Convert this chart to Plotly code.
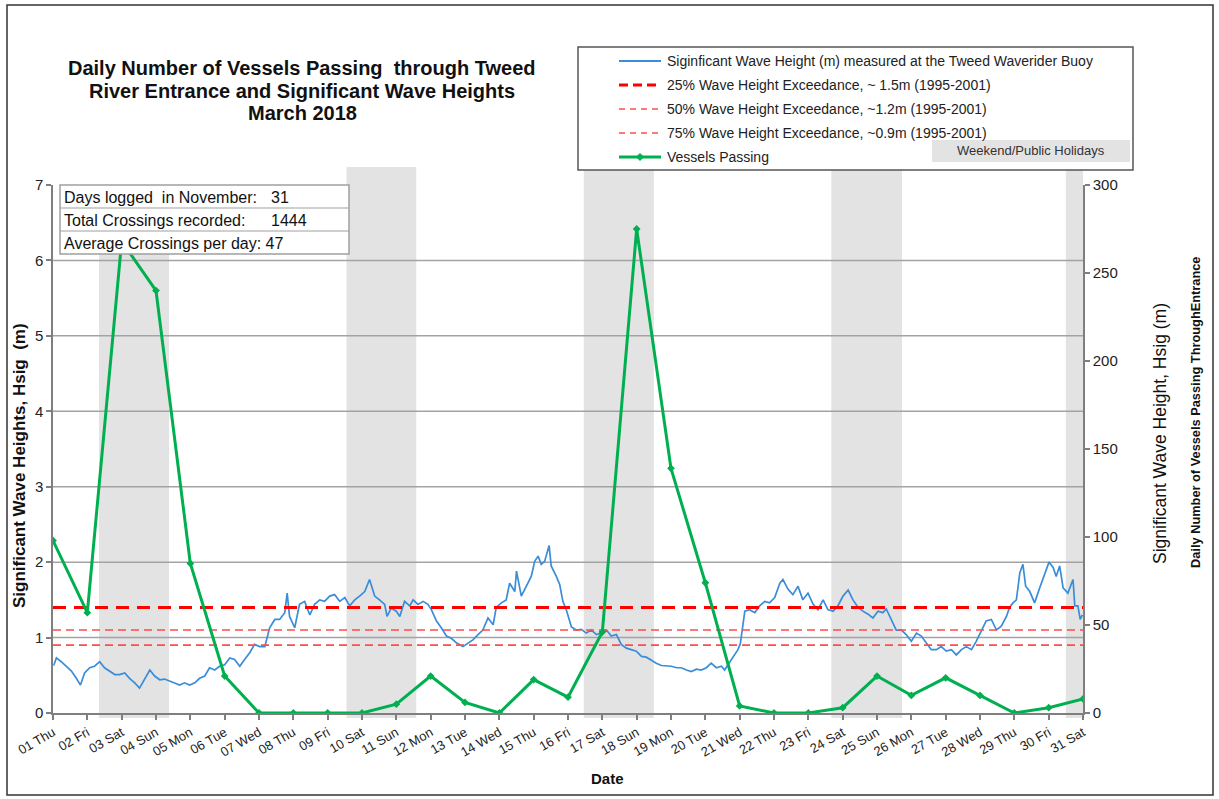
import plotly.graph_objects as go

# ---------------- data ----------------
day_labels = ["01 Thu", "02 Fri", "03 Sat", "04 Sun", "05 Mon", "06 Tue", "07 Wed", "08 Thu",
              "09 Fri", "10 Sat", "11 Sun", "12 Mon", "13 Tue", "14 Wed", "15 Thu", "16 Fri",
              "17 Sat", "18 Sun", "19 Mon", "20 Tue", "21 Wed", "22 Thu", "23 Fri", "24 Sat",
              "25 Sun", "26 Mon", "27 Tue", "28 Wed", "29 Thu", "30 Fri", "31 Sat"]
vessels = [98, 57, 268, 240, 85, 21, 0, 0, 0, 0, 5, 21, 6, 0, 19, 9,
           46, 275, 139, 74, 4, 0, 0, 3, 21, 10, 20, 10, 0, 3, 8]
exceedance_levels = [1.4, 1.1, 0.9]
weekend_start = [1.34, 8.55, 15.46, 22.67, 29.5]
weekend_end = [3.38, 10.58, 17.5, 24.73, 30.0]

# (day offset from 01 Mar, Hsig m)
wave_samples = [
    (0.02, 0.63), (0.10, 0.73), (0.24, 0.68), (0.39, 0.62), (0.53, 0.56), (0.68, 0.46),
    (0.80, 0.37), (0.92, 0.53), (1.07, 0.60), (1.21, 0.62), (1.36, 0.68), (1.50, 0.60),
    (1.65, 0.55), (1.80, 0.51), (1.94, 0.51), (2.09, 0.53), (2.23, 0.46), (2.38, 0.40),
    (2.52, 0.33), (2.67, 0.46), (2.82, 0.57), (2.96, 0.49), (3.11, 0.44), (3.25, 0.45),
    (3.40, 0.42), (3.54, 0.40), (3.69, 0.37), (3.83, 0.40), (3.98, 0.37), (4.13, 0.40),
    (4.27, 0.46), (4.42, 0.49), (4.56, 0.60), (4.71, 0.57), (4.85, 0.62), (5.00, 0.64),
    (5.15, 0.73), (5.29, 0.71), (5.44, 0.62), (5.58, 0.71), (5.73, 0.80), (5.87, 0.91),
    (6.02, 0.88), (6.17, 0.88), (6.31, 1.13), (6.46, 1.24), (6.60, 1.24), (6.75, 1.33),
    (6.82, 1.59), (6.89, 1.28), (7.04, 1.13), (7.18, 1.44), (7.33, 1.48), (7.48, 1.30),
    (7.62, 1.44), (7.77, 1.50), (7.91, 1.48), (8.06, 1.55), (8.20, 1.57), (8.35, 1.48),
    (8.50, 1.53), (8.64, 1.42), (8.79, 1.50), (8.93, 1.55), (9.08, 1.61), (9.22, 1.77),
    (9.37, 1.55), (9.51, 1.50), (9.66, 1.44), (9.73, 1.28), (9.85, 1.39), (10.00, 1.35),
    (10.10, 1.28), (10.24, 1.48), (10.39, 1.42), (10.49, 1.50), (10.63, 1.44), (10.78, 1.48),
    (10.92, 1.44), (11.02, 1.37), (11.17, 1.22), (11.31, 1.13), (11.46, 1.02), (11.60, 0.99),
    (11.75, 0.93), (11.94, 0.88), (12.09, 0.93), (12.23, 0.97), (12.38, 1.04), (12.52, 1.10),
    (12.67, 1.26), (12.82, 1.17), (12.91, 1.40), (13.06, 1.46), (13.20, 1.50), (13.30, 1.72),
    (13.45, 1.61), (13.50, 1.88), (13.64, 1.55), (13.79, 1.68), (13.93, 1.81), (14.03, 2.01),
    (14.13, 2.08), (14.22, 1.97), (14.32, 2.01), (14.45, 2.22), (14.51, 1.95), (14.66, 1.81),
    (14.76, 1.70), (14.85, 1.48), (14.95, 1.37), (15.10, 1.14), (15.24, 1.10), (15.39, 1.11),
    (15.53, 1.06), (15.68, 1.10), (15.83, 1.04), (15.97, 1.06), (16.12, 1.10), (16.26, 1.02),
    (16.41, 1.04), (16.55, 0.91), (16.70, 0.86), (16.84, 0.84), (16.99, 0.82), (17.14, 0.75),
    (17.28, 0.74), (17.43, 0.70), (17.57, 0.66), (17.72, 0.63), (17.86, 0.63), (18.01, 0.62),
    (18.16, 0.60), (18.30, 0.60), (18.45, 0.57), (18.59, 0.55), (18.74, 0.58), (18.88, 0.57),
    (19.03, 0.60), (19.17, 0.66), (19.32, 0.60), (19.47, 0.62), (19.56, 0.57), (19.66, 0.64),
    (19.81, 0.73), (19.95, 0.84), (20.02, 0.92), (20.15, 1.35), (20.29, 1.37), (20.44, 1.33),
    (20.58, 1.42), (20.73, 1.48), (20.87, 1.46), (21.02, 1.53), (21.17, 1.72), (21.26, 1.77),
    (21.41, 1.64), (21.55, 1.57), (21.70, 1.68), (21.84, 1.50), (21.99, 1.59), (22.14, 1.44),
    (22.28, 1.37), (22.43, 1.50), (22.57, 1.37), (22.72, 1.35), (22.86, 1.42), (23.01, 1.55),
    (23.16, 1.63), (23.30, 1.50), (23.45, 1.40), (23.59, 1.35), (23.74, 1.31), (23.88, 1.26),
    (24.03, 1.35), (24.17, 1.33), (24.27, 1.38), (24.42, 1.24), (24.56, 1.10), (24.71, 1.10),
    (24.85, 1.04), (25.00, 0.95), (25.15, 1.06), (25.29, 1.02), (25.44, 0.93), (25.58, 0.84),
    (25.73, 0.84), (25.87, 0.88), (26.02, 0.82), (26.17, 0.84), (26.31, 0.77), (26.46, 0.84),
    (26.60, 0.88), (26.75, 0.84), (26.89, 0.95), (27.04, 1.08), (27.18, 1.22), (27.33, 1.24),
    (27.48, 1.10), (27.62, 1.15), (27.77, 1.28), (27.86, 1.40), (27.96, 1.46), (28.06, 1.50),
    (28.16, 1.86), (28.25, 1.97), (28.33, 1.68), (28.45, 1.61), (28.59, 1.46), (28.74, 1.66),
    (28.83, 1.77), (28.93, 1.90), (29.01, 2.00), (29.13, 1.93), (29.22, 1.81), (29.32, 1.95),
    (29.42, 1.66), (29.56, 1.59), (29.71, 1.77), (29.76, 1.42), (29.85, 1.42), (29.92, 1.24),
    (29.98, 1.30),
]
wave_t = [t for t, _ in wave_samples]
wave_h = [h for _, h in wave_samples]

info_rows = [("Days logged  in November:", "31"),
             ("Total Crossings recorded:", "1444"),
             ("Average Crossings per day: 47", "")]

legend_labels = ["Siginficant Wave Height (m) measured at the Tweed Waverider Buoy",
                 "25% Wave Height Exceedance, ~ 1.5m (1995-2001)",
                 "50% Wave Height Exceedance, ~1.2m (1995-2001)",
                 "75% Wave Height Exceedance, ~0.9m (1995-2001)",
                 "Vessels Passing"]

title_lines = ["Daily Number of Vessels Passing  through Tweed",
               "River Entrance and Significant Wave Heights",
               "March 2018"]

# ---------------- geometry helpers ----------------
W, H = 1219, 799
L, R, T, B = 53, 1083, 185, 713


def px(x):
    return (x - L) / (R - L)


def py(y):
    return (B - y) / (B - T)


FONT = "Liberation Sans, Arial, sans-serif"
BLUE = "#3A8DD8"
GREEN = "#00B050"
RED = "#FF0000"
RED_LIGHT = "#FF4B4B"
AXIS = "#7F7F7F"

fig = go.Figure()

fig.add_trace(go.Scatter(x=wave_t, y=wave_h, mode="lines",
                         line=dict(color=BLUE, width=1.7), showlegend=False))

ex_styles = [dict(color=RED, width=3, dash="13px,8px"),
             dict(color=RED_LIGHT, width=1.6, dash="8px,5px"),
             dict(color=RED_LIGHT, width=1.6, dash="8px,5px")]
for lvl, st in zip(exceedance_levels, ex_styles):
    fig.add_trace(go.Scatter(x=[0, len(day_labels) - 1], y=[lvl, lvl], mode="lines",
                             line=st, showlegend=False))

fig.add_trace(go.Scatter(x=list(range(len(vessels))), y=vessels, yaxis="y2",
                         mode="lines+markers",
                         line=dict(color=GREEN, width=3),
                         marker=dict(symbol="diamond", size=6, color=GREEN),
                         showlegend=False, cliponaxis=True))

shapes = []
# weekend bands
for i, (s, e) in enumerate(zip(weekend_start, weekend_end)):
    shapes.append(dict(type="rect", xref="x", yref="paper", x0=s, x1=e,
                       y0=py(718), y1=(1.0 if i == 0 else py(167)),
                       fillcolor="#E3E3E3", line=dict(width=0), layer="below"))
# gridlines
for lvl in range(1, 7):
    shapes.append(dict(type="line", xref="paper", yref="y", x0=0, x1=1, y0=lvl, y1=lvl,
                       line=dict(color="#A3A3A3", width=1.5), layer="below"))

# outer frame
shapes.append(dict(type="rect", xref="paper", yref="paper", x0=px(7), x1=px(1213),
                   y0=py(795), y1=py(5), line=dict(color="#333333", width=1.5),
                   fillcolor="rgba(0,0,0,0)", layer="above"))

# info box
shapes.append(dict(type="rect", xref="paper", yref="paper", x0=px(60), x1=px(349),
                   y0=py(254), y1=py(185), fillcolor="white",
                   line=dict(color="#A0A0A0", width=1.5), layer="above"))
for yy in (208, 231):
    shapes.append(dict(type="line", xref="paper", yref="paper", x0=px(60), x1=px(349),
                       y0=py(yy), y1=py(yy), line=dict(color="#A0A0A0", width=1.2),
                       layer="above"))

# legend box
shapes.append(dict(type="rect", xref="paper", yref="paper", x0=px(578), x1=px(1133),
                   y0=py(170), y1=py(47), fillcolor="white",
                   line=dict(color="#555555", width=1.5), layer="above"))
# weekend legend patch
shapes.append(dict(type="rect", xref="paper", yref="paper", x0=px(932), x1=px(1130),
                   y0=py(162), y1=py(140), fillcolor="#E3E3E3",
                   line=dict(width=0), layer="above"))

legend_y = [61, 85, 109, 133, 157]
legend_styles = [dict(color=BLUE, width=2),
                 dict(color=RED, width=3, dash="9px,5px"),
                 dict(color=RED_LIGHT, width=1.6, dash="6px,5px"),
                 dict(color=RED_LIGHT, width=1.6, dash="6px,5px"),
                 dict(color=GREEN, width=3)]
for yy, st in zip(legend_y, legend_styles):
    shapes.append(dict(type="line", xref="paper", yref="paper", x0=px(619), x1=px(661),
                       y0=py(yy), y1=py(yy), line=st, layer="above"))
# marker in green legend symbol
cx, cy, d = 640, legend_y[-1], 3.5
shapes.append(dict(type="path", xref="paper", yref="paper",
                   path=f"M {px(cx-d)},{py(cy)} L {px(cx)},{py(cy-d)} L {px(cx+d)},{py(cy)} L {px(cx)},{py(cy+d)} Z",
                   fillcolor=GREEN, line=dict(color=GREEN, width=1), layer="above"))

annotations = []
for line, yy in zip(title_lines, (68, 91, 113)):
    annotations.append(dict(xref="paper", yref="paper", x=px(302), y=py(yy),
                            text=f"<b>{line}</b>",
                            showarrow=False, xanchor="center", yanchor="middle",
                            font=dict(family=FONT, size=20, color="#111")))
for lbl, yy in zip(legend_labels, legend_y):
    annotations.append(dict(xref="paper", yref="paper", x=px(665), y=py(yy), text=lbl,
                            showarrow=False, xanchor="left", yanchor="middle",
                            font=dict(family=FONT, size=14, color="#222")))
annotations.append(dict(xref="paper", yref="paper", x=px(1031), y=py(151),
                        text="Weekend/Public Holidays", showarrow=False,
                        xanchor="center", yanchor="middle",
                        font=dict(family=FONT, size=13, color="#333")))
for (lbl, val), yy in zip(info_rows, (197, 220, 243)):
    annotations.append(dict(xref="paper", yref="paper", x=px(62), y=py(yy), text=lbl,
                            showarrow=False, xanchor="left", yanchor="middle",
                            font=dict(family=FONT, size=16, color="#111")))
    if val:
        annotations.append(dict(xref="paper", yref="paper", x=px(269), y=py(yy), text=val,
                                showarrow=False, xanchor="left", yanchor="middle",
                                font=dict(family=FONT, size=16, color="#111")))
annotations.append(dict(xref="paper", yref="paper", x=px(607), y=py(778), text="<b>Date</b>",
                        showarrow=False, xanchor="center", yanchor="middle",
                        font=dict(family=FONT, size=15, color="#111")))
annotations.append(dict(xref="paper", yref="paper", x=px(19), y=py(466),
                        text="<b>Significant Wave Heights, Hsig  (m)</b>", textangle=-90,
                        showarrow=False, xanchor="center", yanchor="middle",
                        font=dict(family=FONT, size=17, color="#111")))
annotations.append(dict(xref="paper", yref="paper", x=px(1160), y=py(434),
                        text="Significant Wave Height, Hsig (m)", textangle=-90,
                        showarrow=False, xanchor="center", yanchor="middle",
                        font=dict(family=FONT, size=17.5, color="#111")))
annotations.append(dict(xref="paper", yref="paper", x=px(1195), y=py(413),
                        text="<b>Daily Number of Vessels Passing ThroughEntrance</b>",
                        textangle=-90, showarrow=False, xanchor="center", yanchor="middle",
                        font=dict(family=FONT, size=12.8, color="#111")))

fig.update_layout(
    width=W, height=H,
    margin=dict(l=L, r=W - R, t=T, b=H - B, pad=0),
    paper_bgcolor="white", plot_bgcolor="white",
    showlegend=False,
    shapes=shapes, annotations=annotations,
    xaxis=dict(range=[0, len(day_labels) - 1], tickmode="array",
               tickvals=list(range(len(day_labels))), ticktext=day_labels,
               tickangle=-30, ticks="outside", ticklen=5, tickcolor=AXIS, tickwidth=1.5,
               showline=True, linecolor=AXIS, linewidth=2, showgrid=False, zeroline=False,
               tickfont=dict(family=FONT, size=13, color="#222")),
    yaxis=dict(range=[0, 7], dtick=1, ticks="outside", ticklen=5, tickcolor=AXIS,
               tickwidth=1.5, showline=True, linecolor=AXIS, linewidth=1.5,
               showgrid=False, zeroline=False,
               tickfont=dict(family=FONT, size=15, color="#222")),
    yaxis2=dict(range=[0, 300], dtick=50, overlaying="y", side="right",
                ticks="outside", ticklen=5, tickcolor=AXIS, tickwidth=1.5,
                showline=True, linecolor=AXIS, linewidth=1.5, showgrid=False,
                zeroline=False, tickfont=dict(family=FONT, size=15, color="#222")),
)

fig.write_html("out.html", config={"displayModeBar": False},
               post_script="document.body.style.margin='0';document.body.style.overflow='hidden';")
